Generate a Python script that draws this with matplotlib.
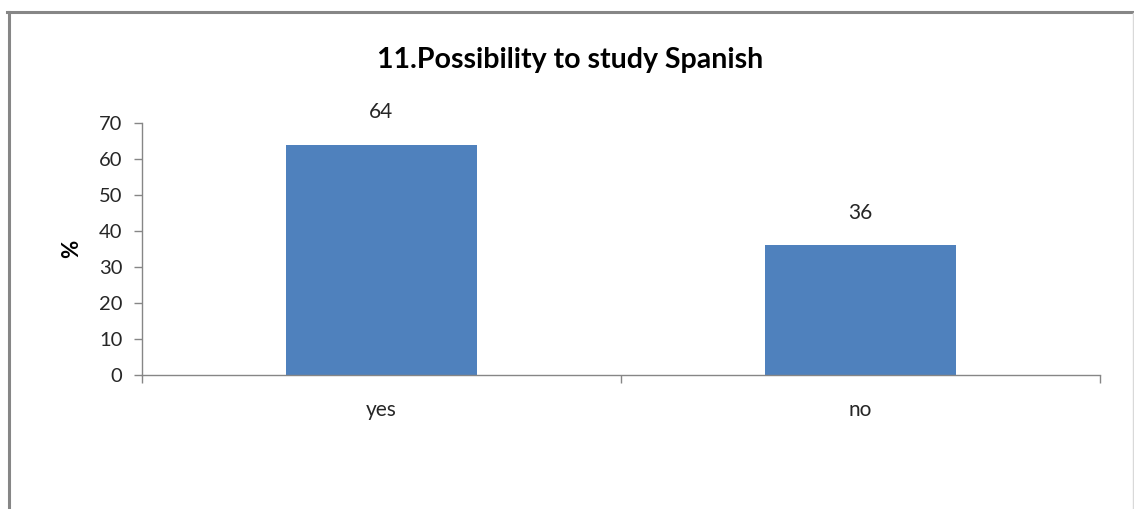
import matplotlib
matplotlib.use("Agg")
import matplotlib.pyplot as plt
from matplotlib.lines import Line2D

categories = ["yes", "no"]
values = [64, 36]
yticks = [0, 10, 20, 30, 40, 50, 60, 70]
title = "11.Possibility to study Spanish"

W, H = 1134, 509
fig = plt.figure(figsize=(W / 100, H / 100), dpi=100)
plt.rcParams["font.family"] = ["Lato", "DejaVu Sans"]

def fx(px):
    return px / W

def fy(py):
    return 1 - py / H

# chart frame (gray border)
fig.add_artist(Line2D([fx(8.5), fx(8.5)], [fy(11.5), 0], color="#868686", lw=2.2,
                      transform=fig.transFigure))
fig.add_artist(Line2D([fx(7), 1], [fy(11.5), fy(11.5)], color="#868686", lw=2.2,
                      transform=fig.transFigure))
fig.add_artist(Line2D([fx(1132.5), fx(1132.5)], [fy(13), 0], color="#d9d9d9", lw=1.0,
                      transform=fig.transFigure))

ax = fig.add_axes([fx(142), fy(375), fx(1100) - fx(142), fy(123) - fy(375)])
x = list(range(len(categories)))
bars = ax.bar(x, values, width=0.40, color="#4F81BD", zorder=2)

ax.set_xlim(-0.5, len(categories) - 0.5)
ax.set_ylim(0, 70)
ax.set_yticks(yticks)
ax.set_yticklabels([str(t) for t in yticks], fontsize=14.5, color="#262626")

# category boundary ticks, labels centred under each bar
ax.set_xticks([i - 0.5 for i in range(len(categories) + 1)])
ax.set_xticklabels([])
ax.set_xticks(x, minor=True)
ax.set_xticklabels(categories, minor=True, fontsize=15, color="#262626")
ax.tick_params(axis="x", which="minor", length=0, pad=18)
ax.tick_params(axis="x", which="major", length=6, width=1, color="#868686", direction="out")
ax.tick_params(axis="y", length=6, width=1, color="#868686", direction="out", pad=8)

for s in ["top", "right"]:
    ax.spines[s].set_visible(False)
for s in ["left", "bottom"]:
    ax.spines[s].set_color("#868686")
    ax.spines[s].set_linewidth(1)

for b, v in zip(bars, values):
    ax.annotate(str(v), (b.get_x() + b.get_width() / 2, v), xytext=(0, 16),
                textcoords="offset points", ha="center", va="bottom",
                fontsize=15, color="#262626")

ax.set_ylabel("%", fontsize=16, fontweight="bold", labelpad=12)
fig.text(fx(570), fy(60), title, ha="center", va="center", fontsize=20.5,
         fontweight="bold", color="black")

fig.savefig("out.png", dpi=100, facecolor="white")
